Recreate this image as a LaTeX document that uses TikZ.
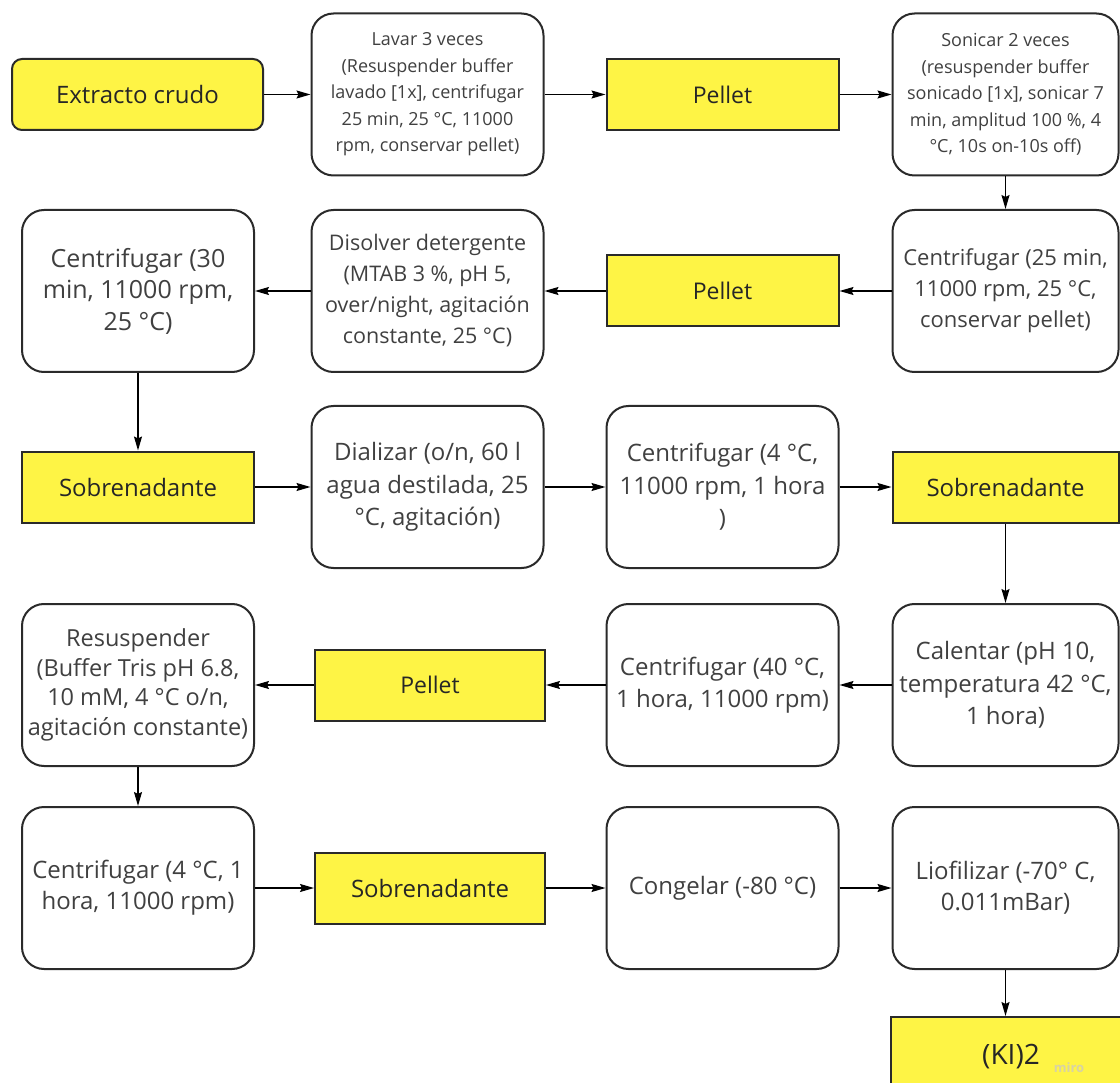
\documentclass[tikz,border=0pt]{standalone}
\usepackage{fontspec}
\setmainfont{Open Sans}
\usetikzlibrary{arrows.meta}
\definecolor{myyellow}{HTML}{FEF445}
\definecolor{bord}{HTML}{2A2A2A}
\definecolor{txt}{HTML}{404040}
\definecolor{wm}{RGB}{215,210,165}
\tikzset{
  rbox/.style={draw=bord, line width=2pt, rounded corners=22pt, fill=white,
    minimum width=232pt, minimum height=162pt, align=center, text=txt,
    font=\fontsize{24}{32.5}\selectfont, inner sep=0pt},
  smalltext/.style={font=\fontsize{18}{26.5}\selectfont},
  ybox/.style={draw=bord, line width=2pt, fill=myyellow, minimum width=232pt,
    minimum height=71pt, align=center, text=black!85,
    font=\fontsize{24}{30}\selectfont, inner sep=0pt},
  arr/.style={line width=1.3pt, -{Stealth[length=14pt,width=8pt,inset=2pt]}},
}
\begin{document}
\begin{tikzpicture}[x=1pt,y=-1pt]
\useasboundingbox[fill=white] (0,0) rectangle (1120,1083);
% row 1
\node[ybox, rounded corners=10pt, minimum width=251pt] (extr) at (137.5,94.5) {Extracto crudo};
\node[rbox, smalltext] (lavar) at (427.5,94.5) {Lavar 3 veces\\(Resuspender buffer\\lavado [1x], centrifugar\\25 min, 25 °C, 11000\\rpm, conservar pellet)};
\node[ybox, font=\fontsize{23}{30}\selectfont] (pel1) at (722.5,94.5) {Pellet};
\node[rbox, smalltext, minimum width=226pt] (soni) at (1005.5,94.5) {Sonicar 2 veces\\(resuspender buffer\\sonicado [1x], sonicar 7\\min, amplitud 100 \%, 4\\°C, 10s on-10s off)};
% row 2
\node[rbox, minimum width=226pt, font=\fontsize{22}{31}\selectfont] (c25) at (1005.5,291) {Centrifugar (25 min,\\11000 rpm, 25 °C,\\conservar pellet)};
\node[ybox, font=\fontsize{23}{30}\selectfont] (pel2) at (722.5,291) {Pellet};
\node[rbox, font=\fontsize{21.5}{31}\selectfont] (diso) at (427.5,291) {Disolver detergente\\(MTAB 3 \%, pH 5,\\over/night, agitación\\constante, 25 °C)};
\node[rbox, font=\fontsize{25}{31.5}\selectfont] (c30) at (138,291) {Centrifugar (30\\min, 11000 rpm,\\25 °C)};
% row 3
\node[ybox] (sob1) at (138,487) {Sobrenadante};
\node[rbox] (dial) at (427.5,487) {Dializar (o/n, 60 l\\agua destilada, 25\\°C, agitación)};
\node[rbox] (c4a) at (722.5,487) {Centrifugar (4 °C,\\11000 rpm, 1 hora\\)};
\node[ybox, minimum width=226pt] (sob2) at (1005.5,487) {Sobrenadante};
% row 4
\node[rbox, minimum width=226pt] (cal) at (1005.5,685) {Calentar (pH 10,\\temperatura 42 °C,\\1 hora)};
\node[rbox] (c40) at (722.5,685) {Centrifugar (40 °C,\\1 hora, 11000 rpm)};
\node[ybox, minimum width=230pt, font=\fontsize{23}{30}\selectfont] (pel3) at (430,685) {Pellet};
\node[rbox, font=\fontsize{23.5}{29.5}\selectfont] (resu) at (138,685) {Resuspender\\(Buffer Tris pH 6.8,\\10 mM, 4 °C o/n,\\agitación constante)};
% row 5
\node[rbox, font=\fontsize{24}{31}\selectfont] (c4b) at (138,888) {Centrifugar (4 °C, 1\\hora, 11000 rpm)};
\node[ybox, minimum width=230pt] (sob3) at (430,888) {Sobrenadante};
\node[rbox] (cong) at (722.5,888) {Congelar (-80 °C)};
\node[rbox, minimum width=226pt, font=\fontsize{24}{31}\selectfont] (liof) at (1005.5,888) {Liofilizar (-70° C,\\0.011mBar)};
% row 6
\node[ybox, minimum width=240pt, minimum height=80pt, font=\fontsize{28}{30}\selectfont] (ki) at (1011,1057) {(KI)2};
\node[text=wm, font=\fontsize{13}{13}\selectfont\bfseries] (miro) at (1069,1068) {miro};
% connectors
\draw[arr] (extr) -- (lavar);
\draw[arr] (lavar) -- (pel1);
\draw[arr] (pel1) -- (soni);
\draw[arr] (soni) -- (c25);
\draw[arr] (c25) -- (pel2);
\draw[arr] (pel2) -- (diso);
\draw[arr] (diso) -- (c30);
\draw[arr] (c30) -- (sob1);
\draw[arr] (sob1) -- (dial);
\draw[arr] (dial) -- (c4a);
\draw[arr] (c4a) -- (sob2);
\draw[arr] (sob2) -- (cal);
\draw[arr] (cal) -- (c40);
\draw[arr] (c40) -- (pel3);
\draw[arr] (pel3) -- (resu);
\draw[arr] (resu) -- (c4b);
\draw[arr] (c4b) -- (sob3);
\draw[arr] (sob3) -- (cong);
\draw[arr] (cong) -- (liof);
\draw[arr] (liof.south) -- (liof.south |- ki.north);
\end{tikzpicture}
\end{document}
